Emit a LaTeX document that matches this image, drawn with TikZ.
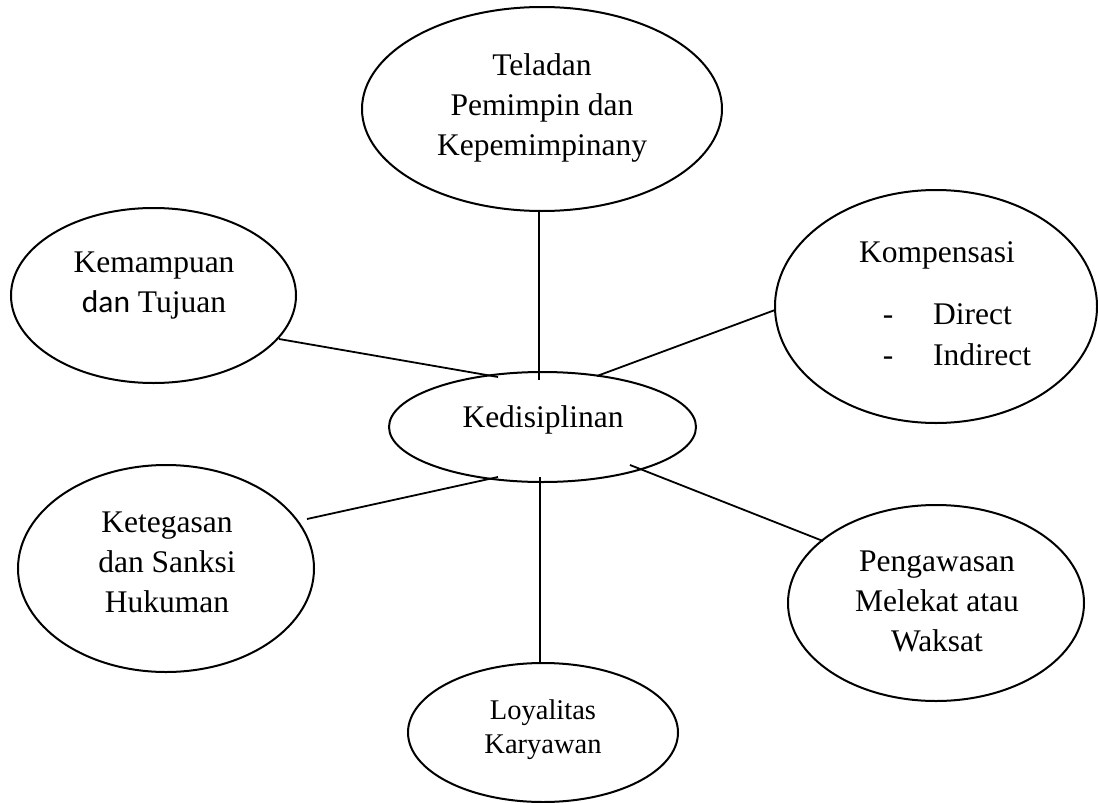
\documentclass[tikz,border=0pt]{standalone}
\usepackage{fontspec}
\usetikzlibrary{shapes.geometric}
\setmainfont{Liberation Serif}
\newfontfamily\calibrifont{Carlito}
\begin{document}
\begin{tikzpicture}[x=1pt,y=-1pt,
  ell/.style={draw=black,line width=2pt,ellipse,inner sep=0pt,outer sep=0pt},
  txt/.style={align=center,inner sep=0pt,anchor=base,font=\fontsize{31.5}{40}\selectfont},
  smalltxt/.style={align=center,inner sep=0pt,anchor=base,font=\fontsize{28.5}{34}\selectfont},
  conn/.style={draw=black,line width=1.8pt}]
\useasboundingbox (0,0) rectangle (1098,803);
% ellipses
\node[ell,minimum width=360pt,minimum height=204pt] (tel) at (542,109) {};
\node[ell,minimum width=285pt,minimum height=175pt] (kem) at (153.5,295.5) {};
\node[ell,minimum width=322pt,minimum height=233pt] (komp) at (936,306.5) {};
\node[ell,minimum width=307pt,minimum height=110pt] (ked) at (542.5,427) {};
\node[ell,minimum width=296pt,minimum height=207pt] (keteg) at (166,568.5) {};
\node[ell,minimum width=296pt,minimum height=196pt] (peng) at (936,603) {};
\node[ell,minimum width=270pt,minimum height=139pt] (loy) at (543,732.5) {};
% texts (base anchor = baseline of the last line)
\node[txt] (telT) at (542,155) {Teladan\\Pemimpin dan\\Kepemimpinany};
\node[txt] (kemT) at (154,312) {Kemampuan\\{\calibrifont dan} Tujuan};
\node[txt] (kompT) at (937,262) {Kompensasi};
\node[txt] (d1) at (888,324) {-};
\node[txt,anchor=base west] (dir) at (933,324) {Direct};
\node[txt] (d2) at (888,365) {-};
\node[txt,anchor=base west] (indir) at (933,365) {Indirect};
\node[txt] (kedT) at (543,427) {Kedisiplinan};
\node[txt] (ketegT) at (167,612) {Ketegasan\\dan Sanksi\\Hukuman};
\node[txt] (pengT) at (937,651) {Pengawasan\\Melekat atau\\Waksat};
\node[smalltxt] (loyT) at (543,753) {Loyalitas\\Karyawan};
% connector end points
\coordinate (telE) at (539,211);
\coordinate (kedN) at (539,380);
\coordinate (kemE) at (279,339);
\coordinate (kedNW) at (498,377);
\coordinate (kompE) at (775,310);
\coordinate (kedNE) at (597,376);
\coordinate (ketegE) at (307,519);
\coordinate (kedSW) at (498,477);
\coordinate (pengE) at (823,541);
\coordinate (kedSE) at (630,465);
\coordinate (kedS) at (540,477);
\coordinate (loyE) at (540,663);
% connectors
\draw[conn] (telE) -- (kedN);
\draw[conn] (kemE) -- (kedNW);
\draw[conn] (kompE) -- (kedNE);
\draw[conn] (ketegE) -- (kedSW);
\draw[conn] (pengE) -- (kedSE);
\draw[conn] (kedS) -- (loyE);
\end{tikzpicture}
\end{document}
